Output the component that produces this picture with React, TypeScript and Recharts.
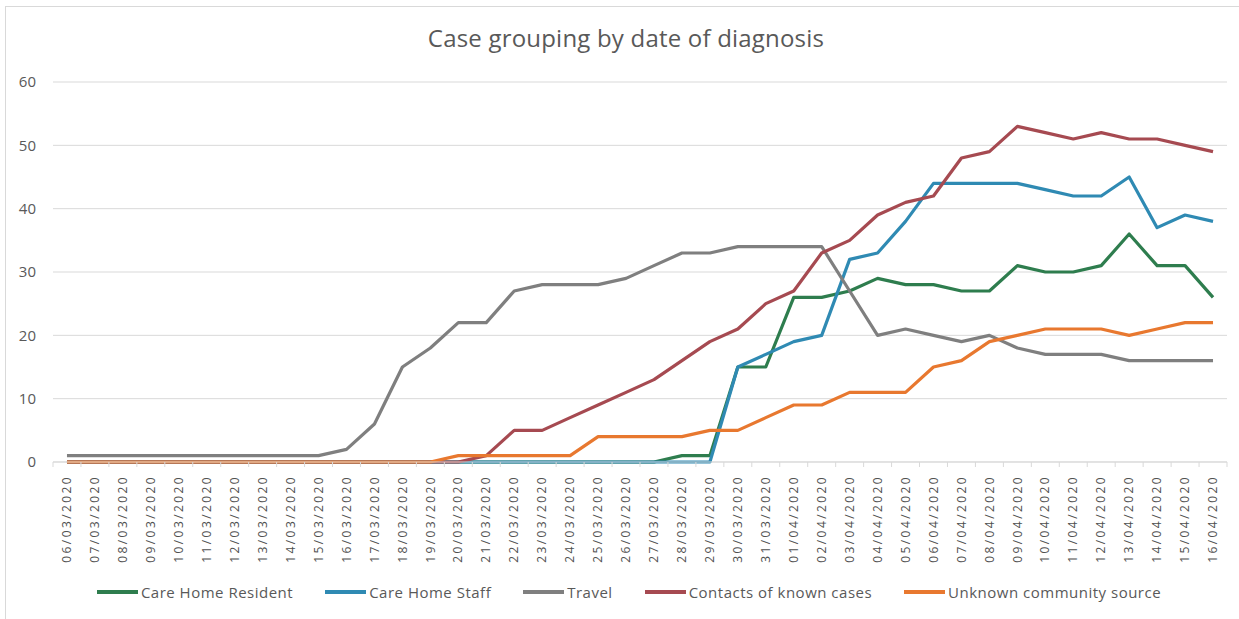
import React from "react";
import { CartesianGrid, Legend, Line, LineChart, XAxis, YAxis } from "recharts";

const dates = [
	"06/03/2020", "07/03/2020", "08/03/2020", "09/03/2020", "10/03/2020", "11/03/2020",
	"12/03/2020", "13/03/2020", "14/03/2020", "15/03/2020", "16/03/2020", "17/03/2020",
	"18/03/2020", "19/03/2020", "20/03/2020", "21/03/2020", "22/03/2020", "23/03/2020",
	"24/03/2020", "25/03/2020", "26/03/2020", "27/03/2020", "28/03/2020", "29/03/2020",
	"30/03/2020", "31/03/2020", "01/04/2020", "02/04/2020", "03/04/2020", "04/04/2020",
	"05/04/2020", "06/04/2020", "07/04/2020", "08/04/2020", "09/04/2020", "10/04/2020",
	"11/04/2020", "12/04/2020", "13/04/2020", "14/04/2020", "15/04/2020", "16/04/2020",
];

const careHomeResident = [
	0, 0, 0, 0, 0, 0, 0, 0, 0, 0, 0, 0, 0, 0, 0, 0, 0, 0, 0, 0, 0, 0,
	1, 1, 15, 15, 26, 26, 27, 29, 28, 28, 27, 27, 31, 30, 30, 31, 36, 31, 31, 26,
];
const careHomeStaff = [
	0, 0, 0, 0, 0, 0, 0, 0, 0, 0, 0, 0, 0, 0, 0, 0, 0, 0, 0, 0, 0, 0, 0, 0,
	15, 17, 19, 20, 32, 33, 38, 44, 44, 44, 44, 43, 42, 42, 45, 37, 39, 38,
];
const travel = [
	1, 1, 1, 1, 1, 1, 1, 1, 1, 1,
	2, 6, 15, 18, 22, 22, 27, 28, 28, 28, 29, 31, 33, 33, 34, 34, 34, 34,
	27, 20, 21, 20, 19, 20, 18, 17, 17, 17, 16, 16, 16, 16,
];
const contacts = [
	0, 0, 0, 0, 0, 0, 0, 0, 0, 0, 0, 0, 0, 0, 0,
	1, 5, 5, 7, 9, 11, 13, 16, 19, 21, 25, 27, 33, 35, 39, 41, 42, 48, 49, 53,
	52, 51, 52, 51, 51, 50, 49,
];
const unknownSource = [
	0, 0, 0, 0, 0, 0, 0, 0, 0, 0, 0, 0, 0, 0,
	1, 1, 1, 1, 1, 4, 4, 4, 4, 5, 5, 7, 9, 9, 11, 11, 11, 15, 16, 19, 20,
	21, 21, 21, 20, 21, 22, 22,
];

const yTicks = [0, 10, 20, 30, 40, 50, 60];

const series = [
	{ key: "resident", name: "Care Home Resident", color: "#2E7D4E", values: careHomeResident },
	{ key: "staff", name: "Care Home Staff", color: "#2F8AB3", values: careHomeStaff },
	{ key: "travel", name: "Travel", color: "#7F7F7F", values: travel },
	{ key: "contacts", name: "Contacts of known cases", color: "#A64A51", values: contacts },
	{ key: "unknown", name: "Unknown community source", color: "#E8782F", values: unknownSource },
];

const data = dates.map((date, i) => {
	const row: Record<string, any> = { date };
	series.forEach((s) => {
		row[s.key] = s.values[i];
	});
	return row;
});

const FONT = "'Open Sans', sans-serif";
const TEXT = "#595959";
const GRID = "#d9d9d9";
const BAND = 1174 / 42;

const DateTick = (props: any) => {
	const { x, y, payload, index } = props;
	const half = BAND / 2;
	return (
		<g>
			<line x1={x - half} x2={x - half} y1={y - 13} y2={y - 8} stroke={GRID} />
			{index === dates.length - 1 && (
				<line x1={x + half} x2={x + half} y1={y - 13} y2={y - 8} stroke={GRID} />
			)}
			<text
				x={x}
				y={y}
				dy="0.35em"
				textAnchor="end"
				transform={`rotate(-90, ${x}, ${y})`}
				fill="#505050"
				fontSize={12}
				fontFamily={FONT}
				letterSpacing={2.4}
			>
				{payload.value}
			</text>
		</g>
	);
};

const renderLegend = () => (
	<div
		style={{
			display: "flex",
			justifyContent: "center",
			alignItems: "center",
			gap: 32,
			height: 20,
			fontFamily: FONT,
			fontSize: 15,
			letterSpacing: 0.5,
			color: TEXT,
			whiteSpace: "nowrap",
		}}
	>
		{series.map((s) => (
			<div key={s.key} style={{ display: "flex", alignItems: "center" }}>
				<span
					style={{
						display: "inline-block",
						width: 41,
						height: 4,
						background: s.color,
						marginRight: 3,
					}}
				/>
				<span>{s.name}</span>
			</div>
		))}
	</div>
);

export default function App() {
	return (
		<div style={{ position: "absolute", left: 0, top: 0, width: 1239, height: 619, background: "#fff" }}>
			<div
				style={{
					position: "absolute",
					left: 5,
					top: 6,
					width: 1233,
					height: 612,
					borderLeft: `1px solid ${GRID}`,
					borderTop: `1px solid ${GRID}`,
				}}
			/>
			<div
				style={{
					position: "absolute",
					left: 13,
					top: 21,
					width: 1226,
					textAlign: "center",
					fontFamily: FONT,
					fontSize: 24,
					letterSpacing: 0.2,
					color: TEXT,
				}}
			>
				Case grouping by date of diagnosis
			</div>
			<LineChart
				width={1239}
				height={619}
				data={data}
				margin={{ top: 82, right: 12, bottom: 0, left: 0 }}
			>
				<CartesianGrid vertical={false} stroke={GRID} />
				<XAxis
					dataKey="date"
					interval={0}
					height={137}
					padding={{ left: BAND / 2, right: BAND / 2 }}
					axisLine={{ stroke: GRID }}
					tickLine={false}
					tickSize={0}
					tickMargin={13}
					tick={<DateTick />}
				/>
				<YAxis
					width={53}
					domain={[0, 60]}
					ticks={yTicks}
					axisLine={false}
					tickLine={false}
					tickSize={0}
					tickMargin={17}
					tick={{ fill: TEXT, fontSize: 15, fontFamily: FONT }}
				/>
				<Legend
					verticalAlign="bottom"
					content={renderLegend}
					wrapperStyle={{ top: 582, left: 19, width: 1220, bottom: "auto", height: 20 }}
				/>
				{series.map((s) => (
					<Line
						key={s.key}
						type="linear"
						dataKey={s.key}
						name={s.name}
						stroke={s.color}
						strokeWidth={3.2}
						strokeLinejoin="round"
						dot={false}
						activeDot={false}
						isAnimationActive={false}
					/>
				))}
			</LineChart>
		</div>
	);
}
